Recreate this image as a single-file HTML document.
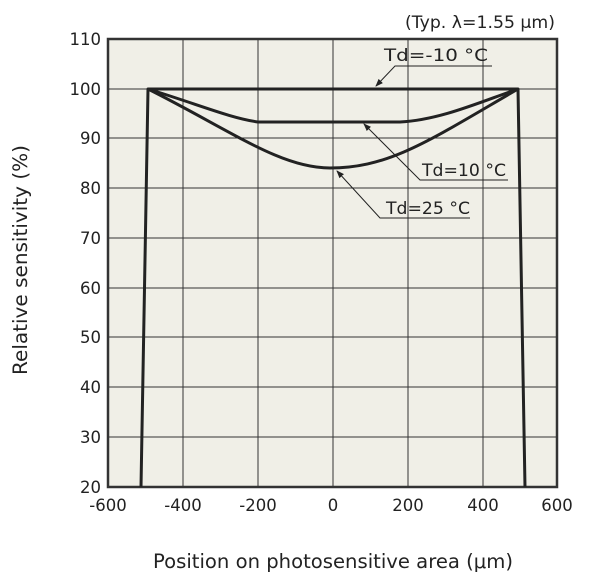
<!DOCTYPE html>
<html><head><style>
body{margin:0;background:#fff;}
svg text{font-family:"DejaVu Sans","Liberation Sans",sans-serif;fill:#222;}
</style></head><body>
<svg width="615" height="581" xmlns="http://www.w3.org/2000/svg">
<defs><marker id="a" markerWidth="8" markerHeight="8" refX="7" refY="4" orient="auto" markerUnits="userSpaceOnUse"><path d="M0,1 L8,4 L0,7 Z" fill="#222"/></marker></defs>
<rect x="108" y="39" width="449" height="448" fill="#f0efe7"/>
<g stroke="#333" stroke-width="1">
<line x1="183" y1="39" x2="183" y2="487"/><line x1="258" y1="39" x2="258" y2="487"/>
<line x1="333" y1="39" x2="333" y2="487"/><line x1="408" y1="39" x2="408" y2="487"/>
<line x1="483" y1="39" x2="483" y2="487"/>
<line x1="108" y1="89" x2="557" y2="89"/><line x1="108" y1="138" x2="557" y2="138"/>
<line x1="108" y1="188" x2="557" y2="188"/><line x1="108" y1="238" x2="557" y2="238"/>
<line x1="108" y1="288" x2="557" y2="288"/><line x1="108" y1="337" x2="557" y2="337"/>
<line x1="108" y1="387" x2="557" y2="387"/><line x1="108" y1="437" x2="557" y2="437"/>
</g>
<rect x="108" y="39" width="449" height="448" fill="none" stroke="#333" stroke-width="2.5"/>
<g fill="none" stroke="#222" stroke-width="3" stroke-linejoin="round">
<path d="M141,487 L148,89 L518,89 L525,487"/>
<path d="M148,89 C200,105 230,118 258,122 L400,122 C440,120 480,102 518,89"/>
<path d="M148,89 C230,130 280,168 330,168 C390,168 430,140 518,89"/>
</g>
<g stroke="#222" stroke-width="1" fill="none">
<polyline points="492,66 395,66 376,86" marker-end="url(#a)"/>
<polyline points="508,180 420,180 364,124" marker-end="url(#a)"/>
<polyline points="470,218 380,218 337,171" marker-end="url(#a)"/>
</g>
<g font-size="17" textLength="0">
<text x="384" y="61" textLength="104" lengthAdjust="spacingAndGlyphs">Td=-10 °C</text>
<text x="422" y="176" textLength="84" lengthAdjust="spacingAndGlyphs">Td=10 °C</text>
<text x="386" y="214" textLength="84" lengthAdjust="spacingAndGlyphs">Td=25 °C</text>
<text x="405" y="28" textLength="150" lengthAdjust="spacingAndGlyphs">(Typ. λ=1.55 μm)</text>
</g>
<g font-size="16.5" text-anchor="end">
<text x="101" y="45">110</text><text x="101" y="95">100</text><text x="101" y="144">90</text>
<text x="101" y="194">80</text><text x="101" y="244">70</text><text x="101" y="294">60</text>
<text x="101" y="343">50</text><text x="101" y="393">40</text><text x="101" y="443">30</text>
<text x="101" y="493">20</text>
</g>
<g font-size="16.5" text-anchor="middle">
<text x="108" y="511">-600</text><text x="183" y="511">-400</text><text x="258" y="511">-200</text>
<text x="333" y="511">0</text><text x="408" y="511">200</text><text x="483" y="511">400</text>
<text x="557" y="511">600</text>
</g>
<text x="153" y="568" font-size="19.5" textLength="360" lengthAdjust="spacingAndGlyphs">Position on photosensitive area (μm)</text>
<text transform="translate(27,375) rotate(-90)" font-size="19.5" textLength="230" lengthAdjust="spacingAndGlyphs">Relative sensitivity (%)</text>
</svg>
</body></html>
